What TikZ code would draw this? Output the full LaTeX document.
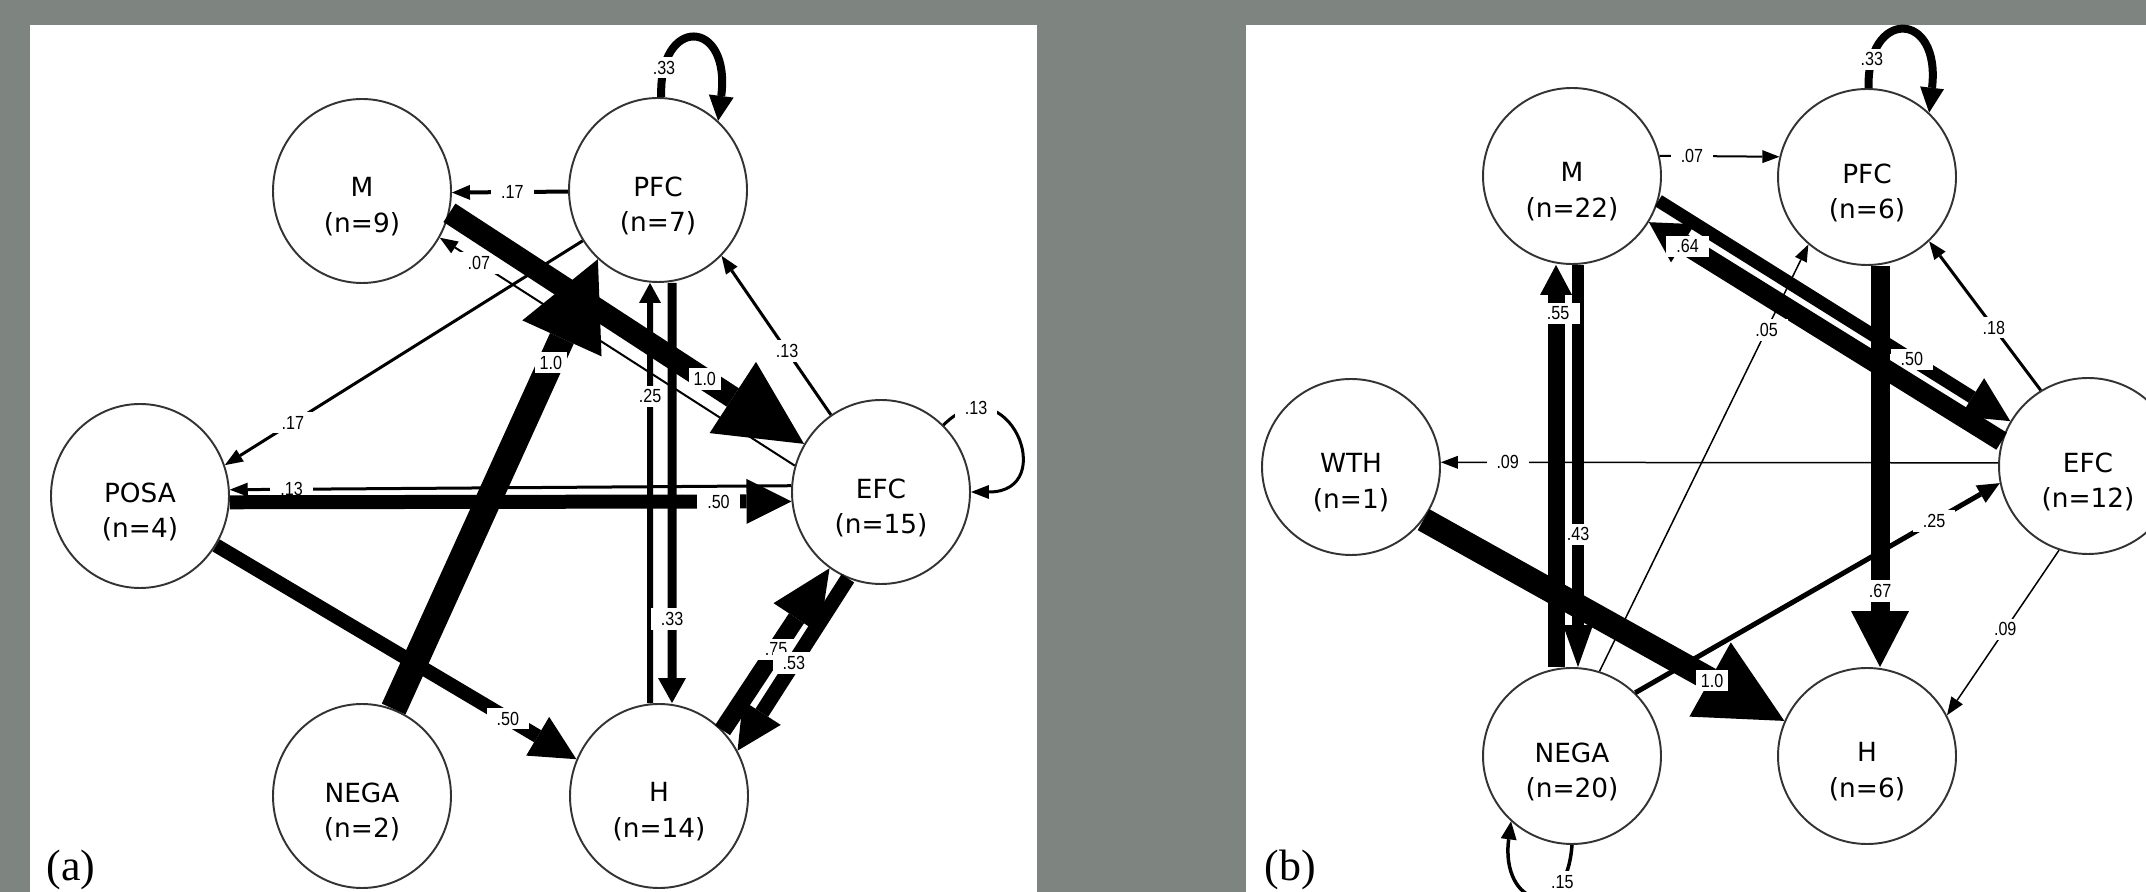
\documentclass[tikz,border=0pt]{standalone}
\usepackage{fontspec}
\setmainfont{Liberation Serif}
\newfontfamily\nodefont{DejaVu Sans}
\newfontfamily\wtfont[FakeStretch=0.85]{Liberation Sans}
\usetikzlibrary{arrows.meta,shapes.geometric}

\definecolor{slate}{RGB}{126,133,128}

\tikzset{
  state/.style={ellipse, draw=black!80, line width=0.55pt, fill=white,
    minimum width=17.8mm, minimum height=#1, inner sep=0pt},
  state/.default=18.4mm,
  lab/.style={font={\nodefont\fontsize{7.5}{10.2}\selectfont}, align=center, yshift=-1.6mm},
  wt/.style={font={\wtfont\fontsize{5.4}{6}\selectfont}, fill=white, inner xsep=1mm, inner ysep=0.4mm},
  flow/.style n args={3}{line width=#1, -{Triangle[length=#2, width=#3, line width=0pt]}},
}

\begin{document}
\begin{tikzpicture}[x=0.1mm, y=0.1mm]
  \clip (0,0) rectangle (2146,-892);
  \fill[slate] (0,0) rectangle (2146,-892);
  \fill[white] (30,-25) rectangle (1037,-892);
  \fill[white] (1246,-25) rectangle (2146,-892);

  % (a)
  \node[state, label={[lab]center:{M\\(n=9)}}] (aM) at (362,-191) {};
  \node[state, label={[lab]center:{PFC\\(n=7)}}] (aPFC) at (658,-190) {};
  \node[state, label={[lab]center:{POSA\\(n=4)}}] (aPOSA) at (140,-496) {};
  \node[state, label={[lab]center:{EFC\\(n=15)}}] (aEFC) at (881,-492) {};
  \node[state, label={[lab]center:{NEGA\\(n=2)}}] (aNEGA) at (362,-796) {};
  \node[state, label={[lab]center:{H\\(n=14)}}] (aH) at (659,-796) {};

  \draw[flow={0.4mm}{1.8mm}{1.5mm}] (aPFC.181) -- node[wt,pos=.48] {.17} (aM.-1);
  \draw[flow={0.2mm}{1.8mm}{1.4mm}] (aEFC.163) -- node[wt,pos=.89] {.07} (aM.-31);
  \draw[flow={2.2mm}{8.5mm}{8.5mm}] (aM.-14) -- node[wt,pos=.72,inner xsep=.5mm] {1.0} (aEFC.148);
  \draw[flow={0.3mm}{1.8mm}{1.4mm}] (aEFC.123) -- node[wt,pos=.4] {.13} (aPFC.-46);
  \draw[flow={0.3mm}{1.8mm}{1.4mm}] (aEFC.47) .. controls +(64,64) and +(90,0) .. node[wt,pos=.18] {.13} (aEFC.0);
  \draw[flow={0.3mm}{1.8mm}{1.4mm}] (aPFC.-146) -- node[wt,pos=.81] {.17} (aPOSA.20);
  \draw[flow={0.3mm}{1.8mm}{1.4mm}] (aEFC.176) -- node[wt,pos=.89] {.13} (aPOSA.4);
  \draw[flow={1.4mm}{4.5mm}{4.5mm}] (aPOSA.-4) -- node[wt,pos=.87] {.50} (aEFC.186);
  \draw[flow={1.4mm}{4.5mm}{4.5mm}] (aPOSA.-33) -- node[wt,pos=.81] {.50} (aH.156);
  \draw[flow={2.6mm}{8.7mm}{8.7mm}] (aNEGA.70) -- node[wt,pos=.77,inner xsep=.5mm] {1.0} (aPFC.229);
  \draw[flow={0.6mm}{2mm}{2.2mm}] ([xshift=-0.9mm]aH.north) -- node[wt,pos=.73] {.25} ([xshift=-0.8mm]aPFC.south);
  \draw[flow={0.9mm}{2.5mm}{2.8mm}] ([xshift=1.4mm]aPFC.south) -- node[wt,pos=.8] {.33} ([xshift=1.3mm]aH.north);
  \draw[flow={1.8mm}{6mm}{5.5mm}] (aH.46) -- node[wt,pos=.5] {.75} (aEFC.-124);
  \draw[flow={1.5mm}{4.5mm}{4.5mm}] (aEFC.-111) -- node[wt,pos=.49] {.53} (aH.30);
  \draw[flow={0.8mm}{2.5mm}{2.5mm}] (aPFC.88) .. controls +(-3,82) and +(13,103) .. node[wt,pos=.14] {.33} (aPFC.49);

  % (b)
  \node[state=17.6mm, label={[lab]center:{M\\(n=22)}}] (bM) at (1572,-176) {};
  \node[state=17.6mm, label={[lab]center:{PFC\\(n=6)}}] (bPFC) at (1867,-177) {};
  \node[state=17.6mm, label={[lab]center:{WTH\\(n=1)}}] (bWTH) at (1351,-467) {};
  \node[state=17.6mm, label={[lab]center:{EFC\\(n=12)}}] (bEFC) at (2088,-466) {};
  \node[state=17.6mm, label={[lab]center:{NEGA\\(n=20)}}] (bNEGA) at (1572,-756) {};
  \node[state=17.6mm, label={[lab]center:{H\\(n=6)}}] (bH) at (1867,-756) {};

  \draw[flow={0.2mm}{1.7mm}{1.3mm}] (bM.13) -- node[wt,pos=.27] {.07} (bPFC.167);
  \draw[flow={1.3mm}{4.5mm}{4.5mm}] (bM.-16) -- node[wt,pos=.72] {.50} (bEFC.150);
  \draw[flow={2mm}{4mm}{4.5mm}] (bEFC.164) -- node[wt,pos=.89] {.64} (bM.-31);
  \draw[flow={1.2mm}{4.2mm}{3mm}] ([xshift=0.6mm]bM.south) -- node[wt,pos=.67] {.43} ([xshift=0.6mm]bNEGA.north);
  \draw[flow={1.7mm}{3mm}{3.2mm}] ([xshift=-1.6mm]bNEGA.north) -- node[wt,pos=.88,minimum width=4.4mm,xshift=.2mm] {.55} ([xshift=-1.6mm]bM.south);
  \draw[flow={0.15mm}{1.7mm}{1.3mm}] (bNEGA.72) -- node[wt,pos=.8] {.05} (bPFC.-131);
  \draw[flow={0.15mm}{1.7mm}{1.3mm}] (bEFC.178) -- node[wt,pos=.88] {.09} (bWTH.3);
  \draw[flow={2.4mm}{8.5mm}{8.5mm}] (bWTH.-36) -- node[wt,pos=.8,inner xsep=.5mm] {1.0} (bH.157);
  \draw[flow={0.5mm}{2.2mm}{2mm}] (bNEGA.45) -- node[wt,pos=.82] {.25} (bEFC.191);
  \draw[flow={1.9mm}{5.6mm}{5.8mm}] ([xshift=1.3mm]bPFC.south) -- node[wt,pos=.81] {.67} ([xshift=1.3mm]bH.north);
  \draw[flow={0.15mm}{1.8mm}{1.4mm}] (bEFC.-109) -- node[wt,pos=.48] {.09} (bH.27);
  \draw[flow={0.3mm}{1.8mm}{1.4mm}] (bEFC.122) -- node[wt,pos=.42] {.18} (bPFC.-46);
  \draw[flow={0.8mm}{2.5mm}{2.4mm}] (bPFC.89) .. controls +(-2,80) and +(12,103) .. node[wt,pos=.14] {.33} (bPFC.46);
  \draw[flow={0.35mm}{1.8mm}{1.6mm}] (bNEGA.-90) .. controls +(-6,-81) and +(-11,-84) .. node[wt,pos=.2] {.15} (bNEGA.-133);

  \node[anchor=base west, inner sep=0pt, font=\fontsize{12.5}{14}\selectfont] (aTag) at (46,-880) {(a)};
  \node[anchor=base west, inner sep=0pt, font=\fontsize{12.5}{14}\selectfont] (bTag) at (1264,-880) {(b)};
\end{tikzpicture}
\end{document}
